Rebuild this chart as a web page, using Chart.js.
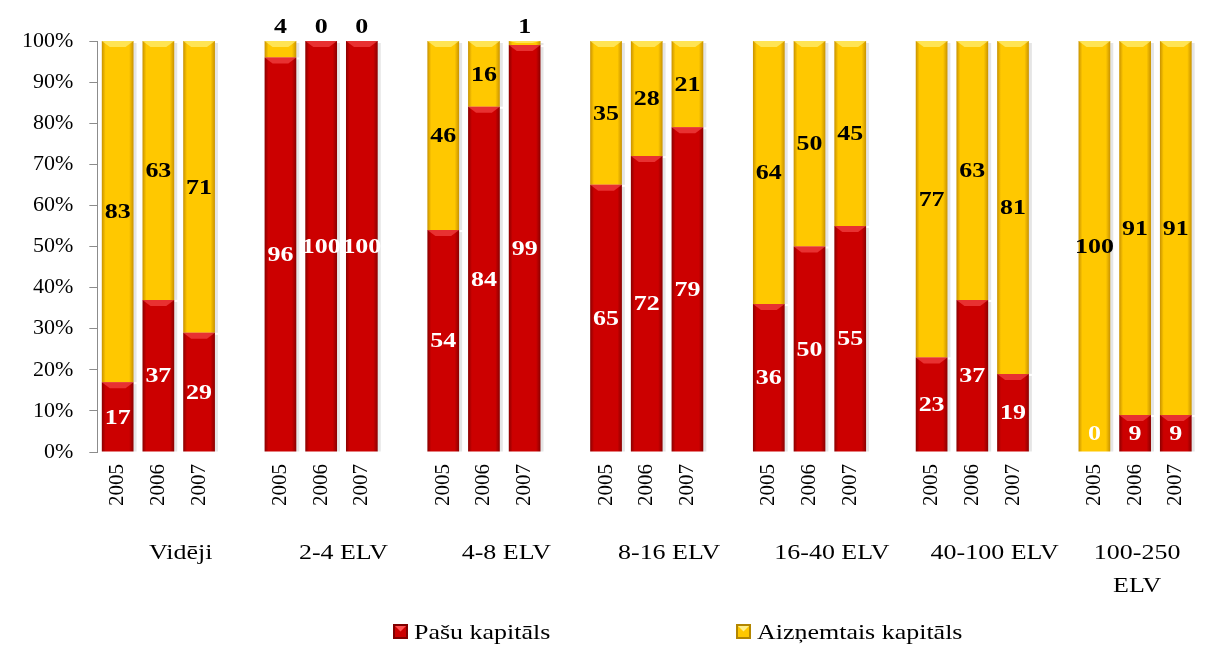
<!DOCTYPE html>
<html>
<head>
<meta charset="utf-8">
<script src="https://cdn.jsdelivr.net/npm/chart.js@4.4.1/dist/chart.umd.min.js"></script>
<style>
  html, body { margin: 0; padding: 0; background: #fff; }
  #wrap { width: 1213px; height: 646px; position: relative; }
</style>
</head>
<body>
<div id="wrap"><canvas id="chart"></canvas></div>
<script>
// Grupas (ELV klases) un gadi
const groups = ['Vidēji', '2-4 ELV', '4-8 ELV', '8-16 ELV', '16-40 ELV', '40-100 ELV', ['100-250', 'ELV']];
const years = ['2005', '2006', '2007'];

// Vērtības pa grupām (2005, 2006, 2007)
const pasuKapitals = [17, 37, 29, 96, 100, 100, 54, 84, 99, 65, 72, 79, 36, 50, 55, 23, 37, 19, 0, 9, 9];
const aiznemtaisKapitals = [83, 63, 71, 4, 0, 0, 46, 16, 1, 35, 28, 21, 64, 50, 45, 77, 63, 81, 100, 91, 91];

const seriesNames = ['Pašu kapitāls', 'Aizņemtais kapitāls'];
const yTicks = [0, 10, 20, 30, 40, 50, 60, 70, 80, 90, 100];

const SERIF = '"Liberation Serif", "Times New Roman", serif';
const STRETCH = 1.18; // teksts oriģinālā ir nedaudz izstiepts

// Izveido kategorijas ar tukšu vietu starp grupām
const labels = [];
const redData = [];
const yellowData = [];
const groupStart = [];
groups.forEach((g, gi) => {
    groupStart.push(labels.length);
    years.forEach((y, yi) => {
        labels.push(y);
        redData.push(pasuKapitals[gi * 3 + yi]);
        yellowData.push(aiznemtaisKapitals[gi * 3 + yi]);
    });
    if (gi < groups.length - 1) {
        labels.push('');
        redData.push(null);
        yellowData.push(null);
    }
});

const BAR_PCT = 0.78;

// Gradients stabiņa malām
function barFill(base, edge) {
    return function(ctx) {
        const chart = ctx.chart;
        const xs = chart.scales.x;
        if (!xs || !chart.chartArea) return base;
        const cx = xs.getPixelForValue(ctx.dataIndex);
        const half = xs.width / labels.length * BAR_PCT / 2;
        const g = chart.ctx.createLinearGradient(cx - half, 0, cx + half, 0);
        g.addColorStop(0, edge);
        g.addColorStop(0.12, base);
        g.addColorStop(0.86, base);
        g.addColorStop(1, edge);
        return g;
    };
}

function stretchedText(c, text, x, y) {
    c.save();
    c.translate(x, y);
    c.scale(STRETCH, 1);
    c.fillText(text, 0, 0);
    c.restore();
}

// Gaišā slīpne katra segmenta augšā
const bevelPlugin = {
    id: 'bevel',
    afterDatasetsDraw(chart) {
        const c = chart.ctx;
        const tops = ['rgba(255,90,90,0.55)', 'rgba(255,240,120,0.7)'];
        c.save();
        chart.data.datasets.forEach((ds, di) => {
            chart.getDatasetMeta(di).data.forEach((bar, i) => {
                const v = ds.data[i];
                if (!v) return;
                const top = Math.min(bar.y, bar.base);
                const h = Math.abs(bar.base - bar.y);
                const d = Math.min(6, h / 2);
                const l = bar.x - bar.width / 2, r = bar.x + bar.width / 2;
                c.fillStyle = tops[di];
                c.beginPath();
                c.moveTo(l, top);
                c.lineTo(r, top);
                c.lineTo(r - 8, top + d);
                c.lineTo(l + 8, top + d);
                c.closePath();
                c.fill();
                // ēna labajā pusē
                c.fillStyle = 'rgba(0,0,0,0.10)';
                c.fillRect(r, top + 2, 3, h - 2);
            });
        });
        c.restore();
    }
};

// Vērtību etiķetes
const valueLabels = {
    id: 'valueLabels',
    afterDatasetsDraw(chart) {
        const c = chart.ctx;
        const area = chart.chartArea;
        c.save();
        c.font = 'bold 22px ' + SERIF;
        c.textAlign = 'center';
        c.textBaseline = 'middle';
        chart.data.datasets.forEach((ds, di) => {
            chart.getDatasetMeta(di).data.forEach((bar, i) => {
                const v = ds.data[i];
                if (v === null || v === undefined) return;
                const top = Math.min(bar.y, bar.base);
                const bottom = Math.max(bar.y, bar.base);
                let y = (top + bottom) / 2;
                if (di === 1 && v < 6) y = top - 15;
                if (di === 0) y = Math.min(y, area.bottom - 19);
                c.fillStyle = di === 0 ? '#ffffff' : '#000000';
                stretchedText(c, String(v), bar.x, y + 1);
            });
        });
        c.restore();
    }
};

// Grupu nosaukumi zem gadiem un leģenda
const groupLabels = {
    id: 'groupLabels',
    afterDraw(chart) {
        const c = chart.ctx;
        const xs = chart.scales.x;
        c.save();
        c.font = '22px ' + SERIF;
        c.textAlign = 'center';
        c.textBaseline = 'middle';
        c.fillStyle = '#000';
        groups.forEach((g, gi) => {
            const s = groupStart[gi];
            const n = gi < groups.length - 1 ? 4 : 3;
            const cx = (xs.getPixelForValue(s) + xs.getPixelForValue(s + n - 1)) / 2;
            const lines = Array.isArray(g) ? g : [g];
            lines.forEach((ln, li) => stretchedText(c, ln, cx + 2, 553 + li * 33));
        });

        // leģenda
        const items = [
            { x: 393, fill: '#cc0000', edge: '#800000', hi: '#ff5050' },
            { x: 736, fill: '#ffc800', edge: '#b38600', hi: '#ffee88' }
        ];
        items.forEach((it, k) => {
            const bx = it.x, by = 624, bs = 15;
            c.fillStyle = it.edge;
            c.fillRect(bx, by, bs, bs);
            c.fillStyle = it.fill;
            c.fillRect(bx + 2, by + 2, bs - 4, bs - 4);
            c.fillStyle = it.hi;
            c.beginPath();
            c.moveTo(bx + 2, by + 2);
            c.lineTo(bx + bs - 2, by + 2);
            c.lineTo(bx + bs / 2, by + bs / 2);
            c.closePath();
            c.fill();
            c.textAlign = 'left';
            c.fillStyle = '#000';
            c.save();
            c.translate(bx + bs + 6, 633);
            c.scale(STRETCH, 1);
            c.fillText(seriesNames[k], 0, 0);
            c.restore();
        });
        c.restore();
    }
};

new Chart(document.getElementById('chart'), {
    type: 'bar',
    data: {
        labels: labels,
        datasets: [
            {
                label: seriesNames[0],
                data: redData,
                backgroundColor: barFill('#cc0000', '#8a0000'),
                barPercentage: BAR_PCT,
                categoryPercentage: 1
            },
            {
                label: seriesNames[1],
                data: yellowData,
                backgroundColor: barFill('#ffc800', '#c89200'),
                barPercentage: BAR_PCT,
                categoryPercentage: 1
            }
        ]
    },
    options: {
        responsive: true,
        maintainAspectRatio: false,
        animation: false,
        layout: { padding: { top: 41, right: 0, bottom: 128, left: 6 } },
        plugins: {
            legend: { display: false },
            tooltip: { enabled: false }
        },
        scales: {
            x: {
                stacked: true,
                grid: { display: false, drawTicks: false },
                border: { display: false },
                ticks: {
                    autoSkip: false,
                    minRotation: 90,
                    maxRotation: 90,
                    padding: 12,
                    color: '#000',
                    font: { family: SERIF, size: 21 }
                }
            },
            y: {
                stacked: true,
                min: 0,
                max: 100,
                afterBuildTicks(axis) {
                    axis.ticks = yTicks.map(v => ({ value: v }));
                },
                grid: { drawOnChartArea: false, color: '#8c8c8c', tickLength: 8 },
                border: { display: true, color: '#8c8c8c' },
                ticks: {
                    padding: 16,
                    color: '#000',
                    font: { family: SERIF, size: 22 },
                    callback: v => v + '%'
                }
            }
        }
    },
    plugins: [bevelPlugin, valueLabels, groupLabels]
});
</script>
</body>
</html>
